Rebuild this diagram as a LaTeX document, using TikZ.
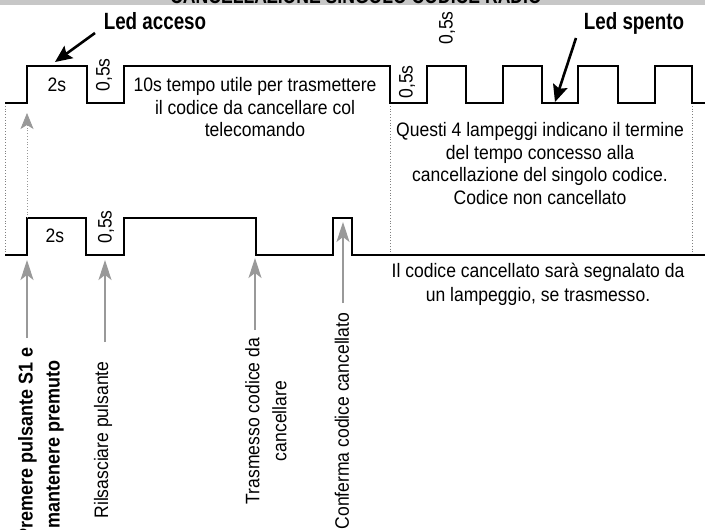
\documentclass[tikz,border=0pt]{standalone}
\usepackage{fontspec}
\setmainfont[FakeStretch=0.9]{Liberation Sans}
\newfontfamily\narrowbf[FakeStretch=0.8]{Liberation Sans Bold}
\usetikzlibrary{arrows.meta}
\begin{document}
\begin{tikzpicture}[x=1pt,y=-1pt,
  wave/.style={line width=2.4pt, line join=miter, line cap=butt},
  guide/.style={black!50, line width=0.8pt, dotted},
  body/.style={font=\fontsize{19.5}{22.5}\selectfont, align=center, inner sep=0pt},
  vlabel/.style={font=\fontsize{19.5}{27}\selectfont, align=center, inner sep=0pt, rotate=90},
  boldlabel/.style={font=\bfseries\fontsize{20}{27}\selectfont, align=center, inner sep=0pt, rotate=90},
  ledlabel/.style={font=\narrowbf\fontsize{23.5}{26}\selectfont, inner sep=0pt, anchor=base},
  garrow/.style={draw=black!40, line width=1.2pt, -{Stealth[length=20pt,width=13pt,inset=5pt]}},
  garrowsmall/.style={draw=black!40, line width=0.8pt, -{Stealth[length=16pt,width=13pt,inset=4pt]}},
  karrow/.style={draw=black, line width=2.6pt, -{Stealth[length=17pt,width=15pt,inset=3pt]}}
]
\useasboundingbox (0,0) rectangle (705,530);
\fill[white] (0,0) rectangle (705,530);

% title bar
\fill[black!22] (0,0) rectangle (705,4.5);
\node[anchor=base, font=\narrowbf\fontsize{22}{22}\selectfont, inner sep=0pt] (title) at (356,3.5) {CANCELLAZIONE SINGOLO CODICE RADIO};

% guides
\draw[guide] (5,103) -- (5,255);
\draw[guide] (390,103) -- (390,255);
\draw[guide] (692,103) -- (692,255);

% waveforms
\draw[wave] (5,103) -- (27,103) -- (27,66) -- (87,66) -- (87,103) -- (124,103) -- (124,66)
  -- (390,66) -- (390,103) -- (427,103) -- (427,66) -- (466,66) -- (466,103) -- (503,103)
  -- (503,66) -- (542,66) -- (542,103) -- (578,103) -- (578,66) -- (618,66) -- (618,103)
  -- (655,103) -- (655,66) -- (692,66) -- (692,103) -- (705,103);
\draw[wave] (5,255) -- (27,255) -- (27,218) -- (86,218) -- (86,255) -- (124,255) -- (124,218)
  -- (256,218) -- (256,255) -- (333,255) -- (333,218) -- (352,218) -- (352,255) -- (705,255);

% texts in waveforms
\node[body] (t2a) at (57,85) {2s};
\node[body] (t2b) at (55,236) {2s};
\node[vlabel] (h1) at (104,75) {0,5s};
\node[vlabel] (h2) at (106,227) {0,5s};
\node[vlabel] (h3) at (407,82) {0,5s};
\node[vlabel] (h4) at (447,28) {0,5s};

\node[body] (txt10) at (255,107.5) {10s tempo utile per trasmettere\\il codice da cancellare col\\telecomando};
\node[body] (txtq) at (540,163.5) {Questi 4 lampeggi indicano il termine\\del tempo concesso alla\\cancellazione del singolo codice.\\Codice non cancellato};
\node[body, font=\fontsize{19.5}{24.5}\selectfont] (txtc) at (538,284.5) {Il codice cancellato sarà segnalato da\\un lampeggio, se trasmesso.};

% LED labels
\node[ledlabel] (ledon) at (155,30) {Led acceso};
\node[ledlabel] (ledoff) at (634,30) {Led spento};
\coordinate (ledonA) at (95,33);
\coordinate (ledonB) at (55,62);
\coordinate (ledoffA) at (576,38);
\coordinate (ledoffB) at (555,102);
\draw[karrow] (ledonA) -- (ledonB);
\draw[karrow] (ledoffA) -- (ledoffB);

% top grey arrow
\coordinate (upS) at (27,218);
\coordinate (upT) at (27,113);
\draw[garrowsmall, dotted] (upS) -- (upT);

% bottom labels
\node[boldlabel] (lab1) at (41,444) {Premere pulsante S1 e\\mantenere premuto};
\node[vlabel] (lab2) at (103,440) {Rilsasciare pulsante};
\node[vlabel] (lab3) at (266,421) {Trasmesso codice da\\cancellare};
\node[vlabel] (lab4) at (342,421) {Conferma codice cancellato};

\coordinate (a1s) at (27,338); \coordinate (a1t) at (27,260);
\coordinate (a2s) at (105,342); \coordinate (a2t) at (105,260);
\coordinate (a3s) at (255,330); \coordinate (a3t) at (255,258);
\coordinate (a4s) at (343,303); \coordinate (a4t) at (343,222);
\draw[garrow] (a1s) -- (a1t);
\draw[garrow] (a2s) -- (a2t);
\draw[garrow] (a3s) -- (a3t);
\draw[garrow] (a4s) -- (a4t);
\end{tikzpicture}
\end{document}
